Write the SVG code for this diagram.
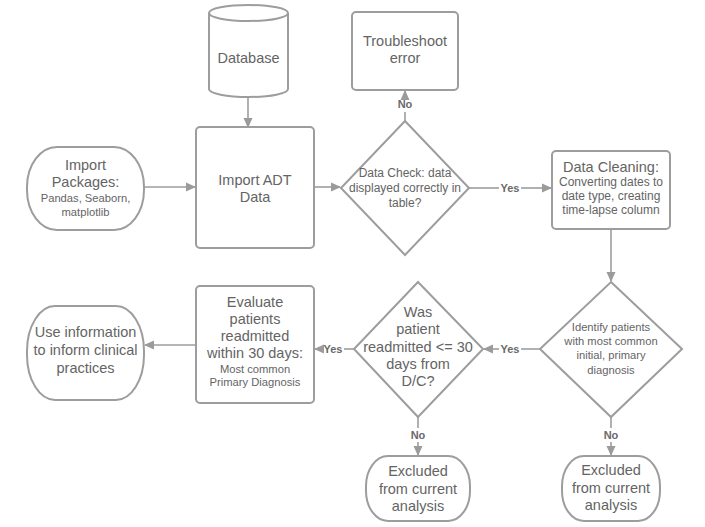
<svg xmlns="http://www.w3.org/2000/svg" width="705" height="527" viewBox="0 0 705 527">
  <defs>
    <marker id="arr" viewBox="0 0 10 10" refX="9" refY="5" markerWidth="10" markerHeight="10" markerUnits="userSpaceOnUse" orient="auto">
      <path d="M0,0.5 L10,5 L0,9.5 Z" fill="#9b9b9b"/>
    </marker>
    <style>
      .shape { fill: #ffffff; stroke: #9d9d9d; stroke-width: 2; }
      .edge { fill: none; stroke: #9d9d9d; stroke-width: 1.6; }
      text { font-family: "Liberation Sans", Arial, sans-serif; fill: #646464; text-anchor: middle; dominant-baseline: central; }
      .lg { font-size: 14.5px; }
      .md { font-size: 12px; }
      .sm { font-size: 11.2px; }
      .lbl { font-size: 11px; font-weight: bold; fill: #6a6a6a; }
    </style>
  </defs>
  <rect width="705" height="527" fill="#ffffff"/>

  <!-- connectors -->
  <g id="connectors">
    <path class="edge" d="M248,97 L248,127" marker-end="url(#arr)"/>
    <path class="edge" d="M144,187 L195,187" marker-end="url(#arr)"/>
    <path class="edge" d="M314,187 L340,187" marker-end="url(#arr)"/>
    <path class="edge" d="M405,121 L405,112"/>
    <path class="edge" d="M405,96 L405,91" marker-end="url(#arr)"/>
    <text class="lbl" x="405" y="104">No</text>
    <path class="edge" d="M469,188 L499,188"/>
    <path class="edge" d="M521,188 L551,188" marker-end="url(#arr)"/>
    <text class="lbl" x="510" y="188">Yes</text>
    <path class="edge" d="M611,229 L611,281" marker-end="url(#arr)"/>
    <path class="edge" d="M540,349 L521,349"/>
    <path class="edge" d="M499,349 L484,349" marker-end="url(#arr)"/>
    <text class="lbl" x="510" y="349">Yes</text>
    <path class="edge" d="M354,349 L344,349"/>
    <path class="edge" d="M323,349 L315,349" marker-end="url(#arr)"/>
    <text class="lbl" x="333" y="349">Yes</text>
    <path class="edge" d="M196,345 L145,345" marker-end="url(#arr)"/>
    <path class="edge" d="M418,417 L418,428"/>
    <path class="edge" d="M418,442 L418,455" marker-end="url(#arr)"/>
    <text class="lbl" x="418" y="435">No</text>
    <path class="edge" d="M611,417 L611,428"/>
    <path class="edge" d="M611,442 L611,455" marker-end="url(#arr)"/>
    <text class="lbl" x="611" y="435">No</text>
  </g>

  <!-- database cylinder -->
  <g id="database">
    <path class="shape" d="M209,13 L209,89 A39.5,8 0 0 0 288,89 L288,13 A39.5,8 0 0 0 209,13 Z"/>
    <path class="shape" d="M209,13 A39.5,8 0 0 0 288,13" fill="none"/>
    <text class="lg" x="248.5" y="58">Database</text>
  </g>

  <g id="troubleshoot">
    <rect class="shape" x="352" y="12" width="106" height="78" rx="4"/>
    <text class="lg" x="405" y="41">Troubleshoot</text>
    <text class="lg" x="405" y="58">error</text>
  </g>

  <g id="import-packages">
    <rect class="shape" x="27" y="147" width="117" height="83" rx="30" ry="40"/>
    <text class="lg" x="85.5" y="165">Import</text>
    <text class="lg" x="85.5" y="182">Packages:</text>
    <text class="sm" x="85.5" y="198">Pandas, Seaborn,</text>
    <text class="sm" x="85.5" y="212">matplotlib</text>
  </g>

  <g id="import-adt">
    <rect class="shape" x="196" y="127" width="118" height="121" rx="4"/>
    <text class="lg" x="255" y="180">Import ADT</text>
    <text class="lg" x="255" y="197">Data</text>
  </g>

  <g id="data-check">
    <path class="shape" d="M405,121 L469,188 L405,255 L341,188 Z"/>
    <text class="md" x="405" y="173">Data Check: data</text>
    <text class="md" x="405" y="188">displayed correctly in</text>
    <text class="md" x="405" y="203">table?</text>
  </g>

  <g id="data-cleaning">
    <rect class="shape" x="552" y="151" width="118" height="78" rx="4"/>
    <text class="lg" x="611" y="167">Data Cleaning:</text>
    <text class="md" x="611" y="182">Converting dates to</text>
    <text class="md" x="611" y="196">date type, creating</text>
    <text class="md" x="611" y="210">time-lapse column</text>
  </g>

  <g id="identify">
    <path class="shape" d="M611,282 L682,349 L611,417 L540,349 Z"/>
    <text class="sm" x="611" y="327">Identify patients</text>
    <text class="sm" x="611" y="341">with most common</text>
    <text class="sm" x="611" y="355">initial, primary</text>
    <text class="sm" x="611" y="370">diagnosis</text>
  </g>

  <g id="readmitted">
    <path class="shape" d="M418,282 L483,349 L418,417 L354,349 Z"/>
    <text class="lg" x="418" y="312">Was</text>
    <text class="lg" x="418" y="329">patient</text>
    <text class="lg" x="418" y="347">readmitted &lt;= 30</text>
    <text class="lg" x="418" y="364">days from</text>
    <text class="lg" x="418" y="381">D/C?</text>
  </g>

  <g id="evaluate">
    <rect class="shape" x="196" y="286" width="118" height="117" rx="4"/>
    <text class="lg" x="255" y="302">Evaluate</text>
    <text class="lg" x="255" y="319">patients</text>
    <text class="lg" x="255" y="336">readmitted</text>
    <text class="lg" x="255" y="353">within 30 days:</text>
    <text class="sm" x="255" y="369">Most common</text>
    <text class="sm" x="255" y="382">Primary Diagnosis</text>
  </g>

  <g id="use-information">
    <rect class="shape" x="27" y="306" width="117" height="94" rx="28" ry="45"/>
    <text class="lg" x="85.5" y="332">Use information</text>
    <text class="lg" x="85.5" y="350">to inform clinical</text>
    <text class="lg" x="85.5" y="368">practices</text>
  </g>

  <g id="excluded-left">
    <rect class="shape" x="366" y="456" width="104" height="65" rx="22" ry="30"/>
    <text class="lg" x="418" y="471">Excluded</text>
    <text class="lg" x="418" y="489">from current</text>
    <text class="lg" x="418" y="506">analysis</text>
  </g>

  <g id="excluded-right">
    <rect class="shape" x="562" y="456" width="98" height="65" rx="22" ry="30"/>
    <text class="lg" x="611" y="470">Excluded</text>
    <text class="lg" x="611" y="488">from current</text>
    <text class="lg" x="611" y="505">analysis</text>
  </g>
</svg>
